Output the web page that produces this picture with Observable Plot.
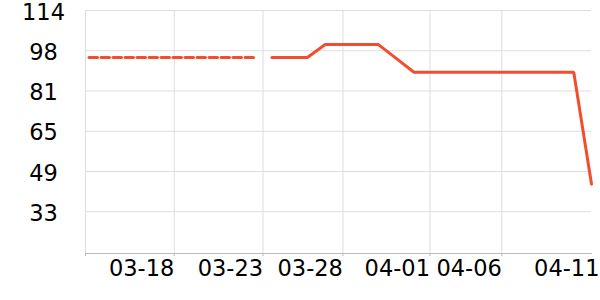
<!DOCTYPE html>
<html>
<head>
<meta charset="utf-8">
<script src="https://cdn.jsdelivr.net/npm/d3@7"></script>
<script src="https://cdn.jsdelivr.net/npm/@observablehq/plot@0.6"></script>
<style>
  html, body { margin: 0; padding: 0; background: #fff; }
  #chart svg { display: block; }
</style>
</head>
<body>
<div id="chart"></div>
<script>
// ---- data ----
const xDomain = ["2024-03-13T00:00Z", "2024-04-10T12:00Z"];
const yDomain = [16.1, 114.5];

const dashedDates = [
  "2024-03-13T00:00Z", "2024-03-14T12:00Z", "2024-03-15T12:00Z", "2024-03-16T12:00Z",
  "2024-03-17T12:00Z", "2024-03-18T12:00Z", "2024-03-19T12:00Z", "2024-03-20T12:00Z",
  "2024-03-21T12:00Z", "2024-03-22T12:00Z"
];
const dashedValues = [95.5, 95.5, 95.5, 95.5, 95.5, 95.5, 95.5, 95.5, 95.5, 95.5];

const solidDates = [
  "2024-03-23T12:00Z", "2024-03-24T12:00Z", "2024-03-25T12:00Z", "2024-03-26T12:00Z",
  "2024-03-27T12:00Z", "2024-03-28T12:00Z", "2024-03-29T12:00Z", "2024-03-30T12:00Z",
  "2024-03-31T12:00Z", "2024-04-01T12:00Z", "2024-04-02T12:00Z", "2024-04-03T12:00Z",
  "2024-04-04T12:00Z", "2024-04-05T12:00Z", "2024-04-06T12:00Z", "2024-04-07T12:00Z",
  "2024-04-08T12:00Z", "2024-04-09T12:00Z", "2024-04-10T12:00Z"
];
const solidValues = [95.5, 95.5, 95.5, 100.7, 100.7, 100.7, 100.7, 95.1, 89.5, 89.5,
  89.5, 89.5, 89.5, 89.5, 89.5, 89.5, 89.5, 89.5, 44.2];

const xTickDates = ["2024-03-18T00:00Z", "2024-03-23T00:00Z", "2024-03-27T12:00Z",
  "2024-04-01T09:40Z", "2024-04-05T10:50Z", "2024-04-10T22:50Z"];
const xTickLabels = ["03-18", "03-23", "03-28", "04-01", "04-06", "04-11"];

const yTicks = [33.0, 49.3, 65.6, 81.9, 98.2, 114.5];
const yTickLabels = ["33", "49", "65", "81", "98", "114"];

// ---- build tables ----
const parse = (s) => new Date(s);
const dashed = dashedDates.map((d, i) => ({date: parse(d), value: dashedValues[i]}));
const solid = solidDates.map((d, i) => ({date: parse(d), value: solidValues[i]}));
const xTicks = xTickDates.map((d, i) => ({date: parse(d), label: xTickLabels[i]}));
const domainX = xDomain.map(parse);
const gridTicks = xTicks.filter(t => t.date <= domainX[1]).map(t => t.date);
const stubTicks = [domainX[0], ...gridTicks];
const yLab = yTicks.map((v, i) => ({value: v, label: yTickLabels[i]}));

const lineColor = "#f04e2f";
const font = "DejaVu Sans";

const chart = Plot.plot({
  width: 600,
  height: 300,
  marginLeft: 85,
  marginRight: 9,
  marginTop: 10,
  marginBottom: 47,
  style: {fontFamily: font, background: "#fff"},
  x: {type: "utc", domain: domainX, axis: null},
  y: {domain: yDomain, axis: null},
  marks: [
    Plot.gridX(gridTicks, {stroke: "#dddddd", strokeOpacity: 1}),
    Plot.gridY(yTicks, {stroke: "#dddddd", strokeOpacity: 1}),
    Plot.frame({anchor: "left", stroke: "#dddddd"}),
    Plot.axisX(stubTicks, {tickSize: 3, stroke: "#bbbbbb", tickFormat: () => ""}),
    Plot.frame({anchor: "bottom", stroke: "#bbbbbb"}),
    Plot.line(dashed, {x: "date", y: "value", stroke: lineColor, strokeWidth: 3,
      strokeDasharray: "8.5,3.5", strokeDashoffset: 8.5}),
    Plot.line(solid, {x: "date", y: "value", stroke: lineColor, strokeWidth: 3,
      strokeLinejoin: "miter"}),
    Plot.text(xTicks, {x: "date", text: "label", frameAnchor: "bottom", textAnchor: "end",
      dy: 22.6, fontSize: 22.5, fill: "#000"}),
    Plot.text(yLab, {y: "value", text: "label", frameAnchor: "left", textAnchor: "middle",
      dx: -42, dy: 2, fontSize: 22.5, fill: "#000"})
  ]
});
document.getElementById("chart").appendChild(chart);
</script>
</body>
</html>
